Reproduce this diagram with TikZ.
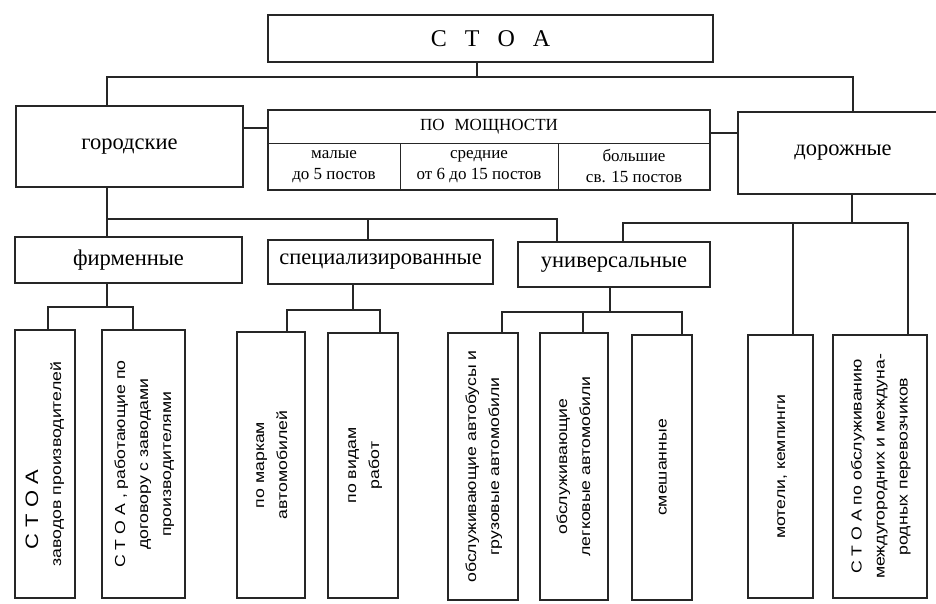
\documentclass[tikz,border=0pt]{standalone}
\usepackage{fontspec}
\setmainfont{Liberation Serif}
\newfontfamily\bsans{Liberation Sans}
\usetikzlibrary{calc}
\newcommand{\vt}[1]{\rotatebox{90}{\scalebox{1.22}[1]{\begin{tabular}{@{}c@{}}#1\end{tabular}}}}
\begin{document}
\begin{tikzpicture}[x=1pt,y=-1pt,
  box/.style={draw=black!85, line width=2.4pt, inner sep=0pt, align=center, font=\fontsize{22.5}{26}\selectfont},
  vbox/.style={draw=black!85, line width=2.4pt, inner sep=0pt, font=\bsans\fontsize{14.5}{23}\selectfont},
  cell/.style={draw=black!85, line width=1pt, inner sep=0pt, align=center, font=\fontsize{17}{21}\selectfont},
  conn/.style={draw=black!85, line width=1.4pt}]
\useasboundingbox (0,0) rectangle (936,603);
\fill[white] (0,0) rectangle (936,603);
\clip (0,0) rectangle (936,603);

% top level
\node[box, minimum width=445pt, minimum height=47pt] (stoa) at (490.5,38.5)
  {\fontsize{24}{28}\selectfont С\hspace{18pt}Т\hspace{18pt}О\hspace{18pt}А};
\node[box, minimum width=227pt, minimum height=81pt] (gor) at (129.5,146.5) {городские};
\node[box, minimum width=210pt, minimum height=82pt] (dor) at (843,153) {дорожные};

% capacity table
\node[cell, minimum width=442pt, minimum height=33pt] (pmh) at (489,126.5) {ПО\hspace{10pt}МОЩНОСТИ};
\node[cell, minimum width=132pt, minimum height=47pt] (c1) at (334,166.5) {малые\\до 5 постов};
\node[cell, minimum width=158pt, minimum height=47pt] (c2) at (479,166.5) {средние\\от 6 до 15 постов};
\node[cell, minimum width=152pt, minimum height=47pt] (c3) at (634,166.5) {большие\\св. 15 постов};
\node[box, minimum width=442pt, minimum height=80pt] (pm) at (489,150) {};

% second level
\node[box, minimum width=227pt, minimum height=46pt] (firm) at (128.5,260) {фирменные};
\node[box, minimum width=225pt, minimum height=44pt] (spec) at (380.5,262) {специализированные};
\node[box, minimum width=192pt, minimum height=45pt] (univ) at (614,264.5) {универсальные};

% bottom level
\node[vbox, minimum width=60pt, minimum height=268pt] (b1) at (45,464)
  {\rotatebox{90}{\scalebox{1.22}[1]{\begin{tabular}{@{}l@{}}\hspace*{14pt}{\fontsize{18}{23}\selectfont С Т О А}\\заводов производителей\end{tabular}}}};
\node[vbox, minimum width=83pt, minimum height=268pt] (b2) at (143.5,464)
  {\vt{С Т О А , работающие по\\договору с заводами\\производителями}};
\node[vbox, minimum width=68pt, minimum height=266pt] (b3) at (271,465)
  {\vt{по маркам\\автомобилей}};
\node[vbox, minimum width=70pt, minimum height=265pt] (b4) at (363,465.5)
  {\vt{по видам\\работ}};
\node[vbox, minimum width=70pt, minimum height=267pt] (b5) at (483,466.5)
  {\vt{обслуживающие автобусы и\\грузовые автомобили}};
\node[vbox, minimum width=68pt, minimum height=267pt] (b6) at (574,466.5)
  {\vt{обслуживающие\\легковые автомобили}};
\node[vbox, minimum width=60pt, minimum height=265pt] (b7) at (662,467.5)
  {\vt{смешанные}};
\node[vbox, minimum width=65pt, minimum height=263pt] (b8) at (780.5,466.5)
  {\vt{мотели, кемпинги}};
\node[vbox, minimum width=94pt, minimum height=263pt] (b9) at (880,466.5)
  {\vt{С Т О А по обслуживанию\\междугородних и междуна-\\родных перевозчиков}};

% connectors: top
\coordinate (jA) at (477,77);
\draw[conn] ([xshift=-13.5pt]stoa.south) -- (jA);
\draw[conn] ([xshift=-22.5pt]gor.north) |- (jA) -| ([xshift=10pt]dor.north);
\draw[conn] ([yshift=18.5pt]gor.east) -- ([yshift=22pt]pm.west);
\draw[conn] ([yshift=17pt]pm.east) -- ([yshift=20pt]dor.west);

% city branch
\coordinate (jB) at (107,219);
\draw[conn] ([xshift=-22.5pt]gor.south) -- ([xshift=-21.5pt]firm.north);
\draw[conn] (jB) -| ([xshift=-12.5pt]spec.north);
\draw[conn] (jB) -| ([xshift=-57pt]univ.north);

% road branch
\coordinate (jD) at (852,223);
\draw[conn] ([xshift=9pt]dor.south) -- (jD);
\draw[conn] ([xshift=9pt]univ.north) |- (jD) -| ([xshift=28pt]b9.north);
\draw[conn] ([xshift=12.5pt]b8.north) -- ([xshift=12.5pt]b8.north |- jD);

% firm children
\coordinate (jF) at (107,307);
\draw[conn] ([xshift=-21.5pt]firm.south) -- (jF);
\draw[conn] ([xshift=3pt]b1.north) |- (jF) -| ([xshift=-10.5pt]b2.north);

% specialised children
\coordinate (jS) at (353,310);
\draw[conn] ([xshift=-27.5pt]spec.south) -- (jS);
\draw[conn] ([xshift=16pt]b3.north) |- (jS) -| ([xshift=17pt]b4.north);

% universal children
\coordinate (jU) at (610,312);
\draw[conn] ([xshift=-4pt]univ.south) -- (jU);
\draw[conn] ([xshift=19pt]b5.north) |- (jU) -| ([xshift=20pt]b7.north);
\draw[conn] ([xshift=9pt]b6.north) -- ([xshift=9pt]b6.north |- jU);
\end{tikzpicture}
\end{document}
